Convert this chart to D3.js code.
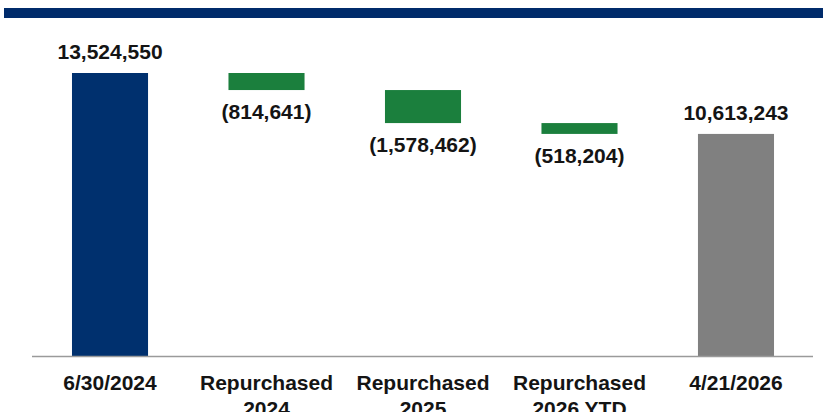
<!DOCTYPE html>
<html>
<head>
<meta charset="utf-8">
<script src="https://cdn.jsdelivr.net/npm/d3@7"></script>
<style>
  body { margin: 0; background: #fff; }
  svg { display: block; }
  text { font-family: "Liberation Sans", Arial, Helvetica, sans-serif; font-weight: bold; fill: #141414; }
</style>
</head>
<body>
<div id="chart"></div>
<script>
// share count waterfall
var categories = [["6/30/2024"], ["Repurchased", "2024"], ["Repurchased", "2025"], ["Repurchased", "2026 YTD"], ["4/21/2026"]];
var values = [13524550, -814641, -1578462, -518204, 10613243];
var kinds = ["start", "change", "change", "change", "end"];

var width = 823;
var height = 412;

var colours = {
  start: "#00306e",
  change: "#1b7f3d",
  end: "#808080"
};

var svg = d3.select("#chart")
            .append("svg")
              .attr("width", width)
              .attr("height", height);

// navy band across the top
svg.append("rect")
    .attr("x", 4)
    .attr("y", 8)
    .attr("width", width - 4)
    .attr("height", 10)
    .attr("fill", "#002b6b");

// build the floating pieces
var running = 0;
var data = values.map(function(v, i) {
  var d = { key: i, label: categories[i], value: v, kind: kinds[i] };
  if (kinds[i] === "change") {
    d.y0 = running;
    d.y1 = running + v;
    running = d.y1;
  } else {
    d.y0 = 0;
    d.y1 = v;
    running = v;
  }
  return d;
});

var xScale = d3.scaleBand()
                .domain(data.map(function(d) { return d.key; }))
                .range([32, 814])
                .paddingInner(0.514)
                .paddingOuter(0.2555);

var yScale = d3.scaleLinear()
                .domain([0, d3.max(values)])
                .range([356, 73]);

var fmt = d3.format(",");

svg.selectAll("rect.bar")
    .data(data)
    .enter()
   .append("rect")
    .attr("class", "bar")
    .attr("x", function(d) { return xScale(d.key); })
    .attr("width", xScale.bandwidth())
    .attr("y", function(d) { return yScale(Math.max(d.y0, d.y1)); })
    .attr("height", function(d) { return Math.abs(yScale(d.y0) - yScale(d.y1)); })
    .attr("fill", function(d) { return colours[d.kind]; });

// value labels: totals above, changes below
svg.selectAll("text.value")
    .data(data)
    .enter()
   .append("text")
    .attr("class", "value")
    .attr("text-anchor", "middle")
    .attr("font-size", 21)
    .attr("x", function(d) { return xScale(d.key) + xScale.bandwidth() / 2; })
    .attr("y", function(d) {
      if (d.kind === "change") {
        return yScale(Math.min(d.y0, d.y1)) + 29;
      }
      return yScale(d.y1) - 14;
    })
    .text(function(d) {
      return d.value < 0 ? "(" + fmt(-d.value) + ")" : fmt(d.value);
    });

// baseline
svg.append("line")
    .attr("x1", 32)
    .attr("x2", 813)
    .attr("y1", yScale(0) + 0.5)
    .attr("y2", yScale(0) + 0.5)
    .attr("stroke", "#9a9a9a")
    .attr("stroke-width", 1.5);

// category labels
var cats = svg.selectAll("text.cat")
              .data(data)
              .enter()
             .append("text")
              .attr("class", "cat")
              .attr("text-anchor", "middle")
              .attr("font-size", 21)
              .attr("y", 390);

cats.selectAll("tspan")
    .data(function(d) {
      return d.label.map(function(l) { return { text: l, x: xScale(d.key) + xScale.bandwidth() / 2 }; });
    })
    .enter()
   .append("tspan")
    .attr("x", function(t) { return t.x; })
    .attr("dy", function(t, i) { return i === 0 ? 0 : 26; })
    .text(function(t) { return t.text; });
</script>
</body>
</html>
